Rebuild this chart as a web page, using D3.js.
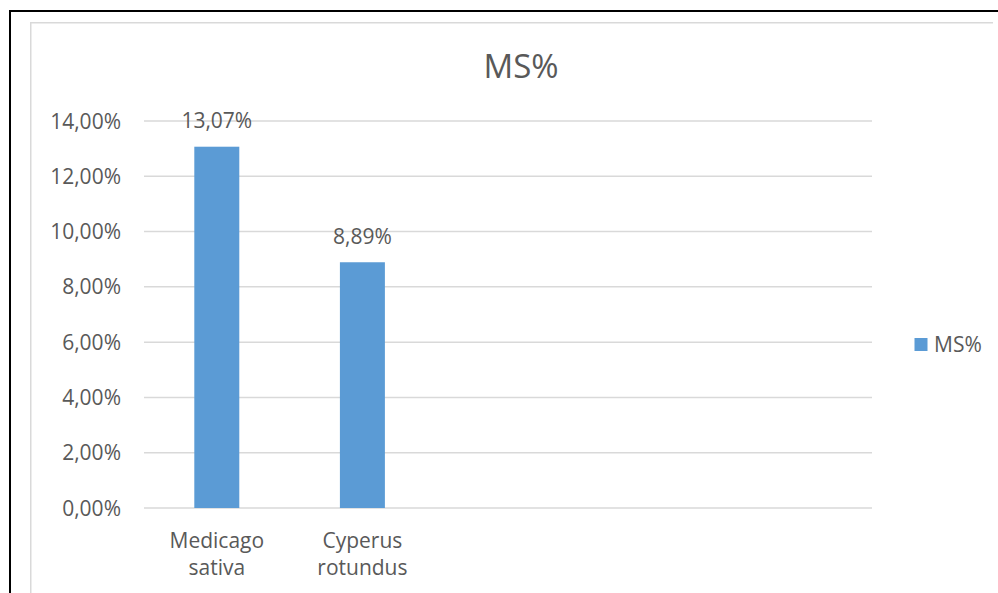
<!DOCTYPE html>
<html>
<head>
<meta charset="utf-8">
<script src="https://cdn.jsdelivr.net/npm/d3@7"></script>
<style>
  html, body { margin: 0; padding: 0; background: #fff; }
  svg { display: block; }
  text { font-family: "Open Sans", "Noto Sans", sans-serif; fill: #595959; }
</style>
</head>
<body>
<svg id="chart" width="998" height="593"></svg>
<script>
// Species on the x axis (the last three slots are empty in this chart)
const categories = [["Medicago", "sativa"], ["Cyperus", "rotundus"], [""], [""], [""]];
// Dry matter share, in percent
const msValues = [13.07, 8.89, null, null, null];
const seriesName = "MS%";
const chartTitle = "MS%";
const yTicks = [0, 2, 4, 6, 8, 10, 12, 14];

const fmt = v => d3.format(".2f")(v).replace(".", ",") + "%";

const svg = d3.select("#chart");

// Frame lines
svg.append("line").attr("x1", 10).attr("x2", 998).attr("y1", 11).attr("y2", 11)
  .attr("stroke", "#000").attr("stroke-width", 2);
svg.append("line").attr("x1", 10).attr("x2", 10).attr("y1", 10).attr("y2", 593)
  .attr("stroke", "#000").attr("stroke-width", 2);
svg.append("line").attr("x1", 30.75).attr("x2", 993).attr("y1", 22.75).attr("y2", 22.75)
  .attr("stroke", "#d9d9d9").attr("stroke-width", 1.5);
svg.append("line").attr("x1", 30.75).attr("x2", 30.75).attr("y1", 22).attr("y2", 593)
  .attr("stroke", "#d9d9d9").attr("stroke-width", 1.5);

const x = d3.scaleBand()
  .domain(d3.range(categories.length))
  .range([144, 872])
  .paddingInner(0.691)
  .paddingOuter(0.3455);

const y = d3.scaleLinear().domain([0, 14]).range([508, 121]);

// Gridlines
svg.append("g").selectAll("line").data(yTicks).join("line")
  .attr("x1", 144).attr("x2", 872)
  .attr("y1", d => y(d)).attr("y2", d => y(d))
  .attr("stroke", "#d9d9d9").attr("stroke-width", 1.5);

// Y tick labels
svg.append("g").selectAll("text").data(yTicks).join("text")
  .attr("x", 121).attr("y", d => y(d) + 7.5)
  .attr("text-anchor", "end")
  .attr("font-size", 21)
  .text(d => fmt(d));

// Bars
const barData = msValues.map((v, i) => ({ i, v })).filter(d => d.v != null);
svg.append("g").selectAll("rect").data(barData).join("rect")
  .attr("x", d => x(d.i))
  .attr("width", x.bandwidth())
  .attr("y", d => y(d.v))
  .attr("height", d => y(0) - y(d.v))
  .attr("fill", "#5b9bd5");

// Value labels
svg.append("g").selectAll("text").data(barData).join("text")
  .attr("x", d => x(d.i) + x.bandwidth() / 2)
  .attr("y", d => y(d.v) - 18.5)
  .attr("text-anchor", "middle")
  .attr("font-size", 21)
  .text(d => fmt(d.v));

// Category labels
const catG = svg.append("g");
categories.forEach((lines, i) => {
  const t = catG.append("text")
    .attr("x", x(i) + x.bandwidth() / 2)
    .attr("y", 547.5)
    .attr("text-anchor", "middle")
    .attr("font-size", 21);
  lines.forEach((ln, k) => {
    t.append("tspan").attr("x", x(i) + x.bandwidth() / 2).attr("dy", k === 0 ? 0 : 27.7).text(ln);
  });
});

// Title
svg.append("text").attr("x", 521).attr("y", 77.5)
  .attr("text-anchor", "middle").attr("font-size", 33)
  .text(chartTitle);

// Legend
svg.append("rect").attr("x", 914.5).attr("y", 338).attr("width", 13).attr("height", 13)
  .attr("fill", "#5b9bd5");
svg.append("text").attr("x", 934).attr("y", 352)
  .attr("font-size", 21)
  .text(seriesName);
</script>
</body>
</html>
